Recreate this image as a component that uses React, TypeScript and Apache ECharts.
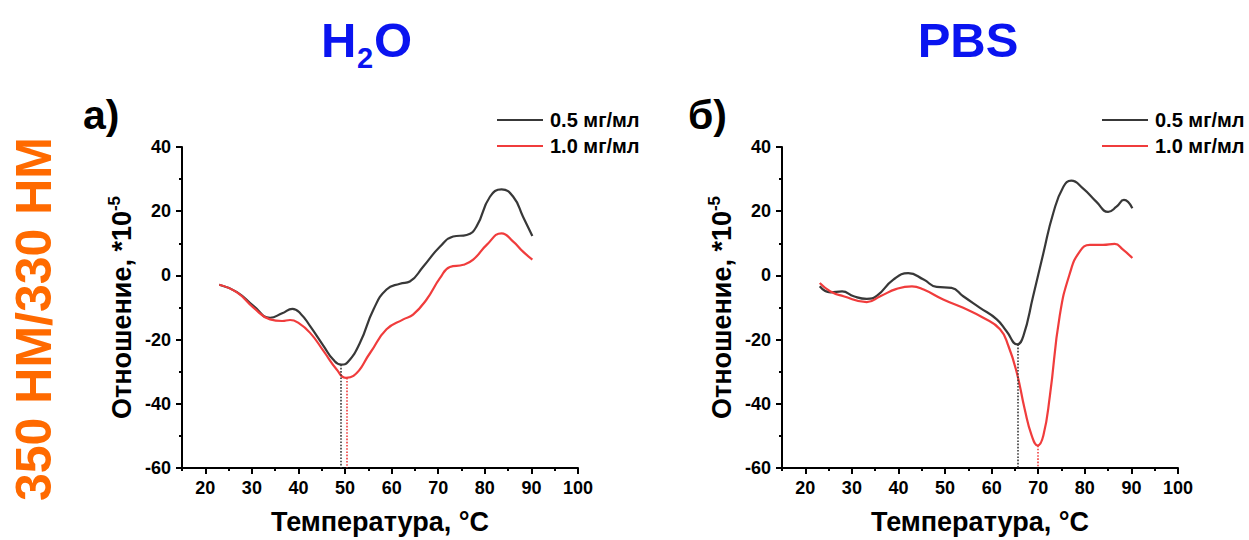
import React, { useEffect, useRef } from "react";
import * as echarts from "echarts";

const FONT = '"Liberation Sans", Arial, Helvetica, sans-serif';

// Temperatures (°C) / ratio (*10^-5)
const h2o05: [number, number][] = [
  [23, -2.9], [26.8, -5.2], [30.4, -9.6], [33.9, -13.2], [36.5, -11.8], [38.7, -10.4], [40.5, -12],
  [42.5, -15.8], [45.4, -22], [47.5, -26.3], [49.2, -27.8], [50.6, -27], [53.2, -21], [56.1, -10.6],
  [58.9, -4.4], [61.8, -2.6], [63.9, -1.9], [66.8, 2.8], [70.4, 9], [73.2, 12.1], [76.1, 12.6],
  [78.2, 15.2], [81.1, 24.5], [83.6, 26.8], [86.1, 24.5], [88.2, 18.3], [90.2, 12.3],
];
const h2o10: [number, number][] = [
  [23, -2.9], [26.8, -5.3], [30.4, -10.1], [33.9, -13.7], [36.5, -14.2], [38.2, -13.9], [40, -14.8],
  [42.5, -17.9], [45.4, -23.6], [48.2, -29.3], [50.2, -31.9], [51.8, -31.3], [55.4, -24.1],
  [58.9, -16.8], [62.5, -13.7], [64.6, -12.2], [67.5, -7.5], [70.4, -0.8], [72.5, 2.6], [75.4, 3.3],
  [77.5, 4.9], [80.4, 9.5], [83.6, 13.1], [86.1, 10.5], [88.2, 7.4], [90.2, 4.9],
];
const pbs05: [number, number][] = [
  [23.1, -3.4], [25.4, -5.3], [27.9, -5], [30.4, -6.5], [33.2, -7.3], [35.4, -6.3], [38.9, -1.3],
  [42.1, 0.7], [45.4, -1.3], [48.2, -3.6], [51.4, -3.9], [53.9, -6.5], [57.5, -10.1], [61.1, -13.7],
  [63.2, -17.4], [65.5, -21.5], [66.8, -18.9], [68.9, -6.5], [71.1, 6.9], [73.2, 19.3], [75.4, 27.6],
  [77.1, 29.5], [79.6, 27.1], [82.5, 22.9], [85, 19.8], [86.8, 21.4], [88.4, 23.5], [90.2, 20.9],
];
const pbs10: [number, number][] = [
  [23.1, -2.4], [25.4, -5], [28.2, -6.5], [33.2, -8.3], [36.1, -6.5], [39.6, -4.2], [42.9, -3.4],
  [45.4, -4.4], [49.6, -7.5], [53.9, -10.1], [58.2, -13.2], [61.8, -16.8], [63.6, -22], [65.4, -30.3],
  [67.1, -41.7], [68.6, -49.9], [69.9, -53], [71.1, -49.9], [72.5, -37.5], [74.6, -12.7], [76.8, 0.7],
  [78.9, 7.4], [81.1, 9.5], [83.9, 9.5], [86.4, 9.8], [88.2, 8], [90.2, 5.4],
];

// minima marked with dotted drop lines: [temperature, value]
const h2oMin05: [number, number] = [49.1, -27.8];
const h2oMin10: [number, number] = [50.4, -31.9];
const pbsMin05: [number, number] = [65.5, -21.5];
const pbsMin10: [number, number] = [69.9, -53];

const xMajor = [20, 30, 40, 50, 60, 70, 80, 90, 100];
const xMinor = [15, 25, 35, 45, 55, 65, 75, 85, 95];
const seriesNames = ["0.5 мг/мл", "1.0 мг/мл"];
const Y_MIN = -60;

const BLACK = "#383838";
const RED = "#f03c3c";

function mkX(gridIndex: number, major: boolean) {
  return {
    type: "value",
    gridIndex,
    min: 15,
    max: 100,
    position: "bottom",
    axisLine: { show: major, onZero: false, lineStyle: { color: "#000", width: 2 } },
    axisTick: {
      show: true,
      customValues: major ? xMajor : xMinor,
      length: major ? 6 : 3,
      lineStyle: { color: "#000", width: 2 },
    },
    axisLabel: {
      show: major,
      customValues: major ? xMajor : [],
      fontSize: 18,
      fontWeight: "bold",
      color: "#000",
      margin: 11,
      fontFamily: FONT,
    },
    splitLine: { show: false },
    name: major ? "Температура, °C" : "",
    nameLocation: "middle",
    nameGap: 40,
    nameTextStyle: { fontSize: 27, fontWeight: "bold", color: "#000", fontFamily: FONT },
  };
}

function mkY(gridIndex: number) {
  return {
    type: "value",
    gridIndex,
    min: -60,
    max: 40,
    interval: 20,
    axisLine: { show: true, onZero: false, lineStyle: { color: "#000", width: 2 } },
    axisTick: { show: true, length: 6, lineStyle: { color: "#000", width: 2 } },
    minorTick: { show: true, splitNumber: 2, length: 3, lineStyle: { color: "#000", width: 2 } },
    splitLine: { show: false },
    minorSplitLine: { show: false },
    axisLabel: { fontSize: 18, fontWeight: "bold", color: "#000", margin: 11, fontFamily: FONT },
    name: "Отношение, *10{sup|-5}",
    nameLocation: "middle",
    nameGap: 44,
    nameTextStyle: {
      fontSize: 27,
      fontWeight: "bold",
      color: "#000",
      fontFamily: FONT,
      lineHeight: 32,
      rich: {
        sup: { fontSize: 17, fontWeight: "bold", color: "#000", fontFamily: FONT, verticalAlign: "top", lineHeight: 17 },
      },
    },
  };
}

function mkLine(name: string, data: [number, number][], color: string, xi: number, yi: number, minPt: [number, number]) {
  return {
    type: "line",
    name,
    data,
    xAxisIndex: xi,
    yAxisIndex: yi,
    smooth: 0.5,
    showSymbol: false,
    symbol: "none",
    lineStyle: { color, width: 2.2 },
    itemStyle: { color },
    markLine: {
      silent: true,
      symbol: ["none", "none"],
      label: { show: false },
      lineStyle: { type: "dotted", color, width: 1.6 },
      data: [[{ coord: [minPt[0], minPt[1]] }, { coord: [minPt[0], Y_MIN] }]],
    },
  };
}

function mkLegend(left: number) {
  return {
    left,
    top: 109,
    padding: 0,
    orient: "vertical",
    icon: "rect",
    itemWidth: 46,
    itemHeight: 2,
    itemGap: 4,
    selectedMode: false,
    data: seriesNames,
    textStyle: { fontSize: 20, fontWeight: "bold", color: "#000", lineHeight: 22, fontFamily: FONT, padding: [0, 0, 0, 2] },
  };
}

export default function App() {
  const ref = useRef<HTMLDivElement>(null);
  useEffect(() => {
    if (!ref.current) return;
    const chart = echarts.init(ref.current, undefined, { renderer: "svg" });
    const titleFont = `bold 49px ${FONT}`;
    chart.setOption({
      animation: false,
      textStyle: { fontFamily: FONT },
      grid: [
        { left: 182, top: 147, width: 396, height: 321 },
        { left: 782, top: 147, width: 396, height: 321 },
      ],
      xAxis: [mkX(0, true), mkX(0, false), mkX(1, true), mkX(1, false)],
      yAxis: [mkY(0), mkY(1)],
      legend: [mkLegend(497), mkLegend(1102)],
      series: [
        mkLine(seriesNames[0], h2o05, BLACK, 0, 0, h2oMin05),
        mkLine(seriesNames[1], h2o10, RED, 0, 0, h2oMin10),
        mkLine(seriesNames[0], pbs05, BLACK, 2, 1, pbsMin05),
        mkLine(seriesNames[1], pbs10, RED, 2, 1, pbsMin10),
      ],
      graphic: [
        { type: "text", left: 321, top: 15, style: { text: "H", font: titleFont, fill: "#0a14f0" } },
        { type: "text", left: 357, top: 43, style: { text: "2", font: `bold 29px ${FONT}`, fill: "#0a14f0" } },
        { type: "text", left: 374, top: 15, style: { text: "O", font: titleFont, fill: "#0a14f0" } },
        { type: "text", x: 968, y: 40, style: { text: "PBS", font: titleFont, fill: "#0a14f0", align: "center", verticalAlign: "middle" } },
        { type: "text", x: 83, y: 115, style: { text: "а)", font: `bold 41px ${FONT}`, fill: "#000", align: "left", verticalAlign: "middle" } },
        { type: "text", x: 688, y: 115, style: { text: "б)", font: `bold 41px ${FONT}`, fill: "#000", align: "left", verticalAlign: "middle" } },
        {
          type: "text",
          x: 34,
          y: 319,
          rotation: Math.PI / 2,
          style: { text: "350 НМ/330 НМ", font: `bold 50px ${FONT}`, fill: "#ff6a00", align: "center", verticalAlign: "middle" },
        },
      ],
    });
    return () => chart.dispose();
  }, []);
  return <div ref={ref} style={{ position: "absolute", left: 0, top: 0, width: 1249, height: 540 }} />;
}
